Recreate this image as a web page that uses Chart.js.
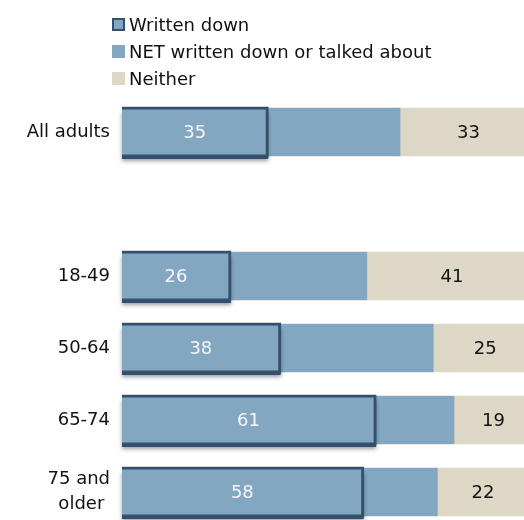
<!DOCTYPE html>
<html>
<head>
<meta charset="utf-8">
<script src="https://cdn.jsdelivr.net/npm/chart.js@4.4.1/dist/chart.umd.min.js"></script>
<style>
  html, body { margin: 0; padding: 0; background: #fff; overflow: hidden; }
  .wrap { position: relative; width: 524px; height: 520px; overflow: hidden; }
  .legend { position: absolute; left: 112px; top: 11px; font-family: "DejaVu Sans", Verdana, sans-serif; font-size: 18px; color: #111; }
  .legend div { height: 27px; display: flex; align-items: center; white-space: nowrap; }
  .legend span.box { display: inline-block; width: 13px; height: 13px; margin-right: 4px; box-sizing: border-box; }
  canvas { position: absolute; left: 0; top: 0; }
</style>
</head>
<body>
<div class="wrap">
  <canvas id="chart" width="540" height="530"></canvas>
  <div class="legend">
    <div><span class="box" style="background:#83a7c0;border:2px solid #34506a;"></span>Written down</div>
    <div><span class="box" style="background:#83a7c0;"></span>NET written down or talked about</div>
    <div><span class="box" style="background:#ddd8c6;"></span>Neither</div>
  </div>
</div>
<script>
const groups = ["All adults", "", "18-49", "50-64", "65-74", ["75 and", "older "]];
const writtenDown = [35, null, 26, 38, 61, 58];
const netWrittenOrTalked = [67, null, 59, 75, 80, 76];
const neither = [33, null, 41, 25, 19, 22];

const blue = "#83a7c0";
const beige = "#ddd8c6";
const dark = "#34506a";

// dark drop shadow under the "written down" boxes
const shadowPlugin = {
  id: "boxShadow",
  beforeDatasetDraw(chart, args) {
    if (args.index !== 0) return;
    const ctx = chart.ctx;
    ctx.save();
    ctx.shadowColor = "rgba(20,40,60,0.45)";
    ctx.shadowBlur = 4;
    ctx.shadowOffsetY = 2;
    ctx.fillStyle = dark;
    args.meta.data.forEach((bar, i) => {
      if (writtenDown[i] == null) return;
      const left = Math.min(bar.x, bar.base);
      const w = Math.abs(bar.x - bar.base) + 1;
      ctx.fillRect(left, bar.y - bar.height / 2 + 3, w, bar.height);
    });
    ctx.restore();
  }
};

const valueLabels = {
  id: "valueLabels",
  afterDatasetsDraw(chart) {
    const ctx = chart.ctx;
    ctx.save();
    ctx.font = "18px 'DejaVu Sans', Verdana, sans-serif";
    ctx.textAlign = "center";
    ctx.textBaseline = "middle";
    [[0, writtenDown, "#f4f6f8"], [2, neither, "#111"]].forEach(([idx, values, color]) => {
      const meta = chart.getDatasetMeta(idx);
      ctx.fillStyle = color;
      meta.data.forEach((bar, i) => {
        if (values[i] == null) return;
        ctx.fillText(values[i], (bar.x + bar.base) / 2, bar.y + 1);
      });
    });
    ctx.restore();
  }
};

new Chart(document.getElementById("chart"), {
  type: "bar",
  data: {
    labels: groups,
    datasets: [
      {
        label: "Written down",
        data: writtenDown,
        backgroundColor: blue,
        borderColor: dark,
        borderWidth: 3,
        inflateAmount: 1.5,
        stack: "written"
      },
      {
        label: "NET written down or talked about",
        data: netWrittenOrTalked,
        backgroundColor: blue,
        borderWidth: 0,
        stack: "net"
      },
      {
        label: "Neither",
        data: neither,
        backgroundColor: beige,
        borderWidth: 0,
        stack: "net"
      }
    ]
  },
  options: {
    indexAxis: "y",
    responsive: false,
    animation: false,
    devicePixelRatio: 1,
    grouped: false,
    barThickness: 48,
    layout: { padding: { top: 96, right: 3, bottom: 2, left: 0 } },
    plugins: {
      legend: { display: false },
      tooltip: { enabled: false }
    },
    scales: {
      x: {
        stacked: true,
        min: 0,
        max: 100,
        display: false
      },
      y: {
        stacked: true,
        grid: { display: false, drawTicks: false },
        border: { display: false },
        ticks: {
          padding: 12,
          color: "#111",
          font: { family: "'DejaVu Sans', Verdana, sans-serif", size: 18, lineHeight: 1.4 }
        },
        afterFit(scale) {
          scale.width = 122;
          scale.paddingTop = 0;
          scale.paddingBottom = 0;
        }
      }
    }
  },
  plugins: [shadowPlugin, valueLabels]
});
</script>
</body>
</html>
